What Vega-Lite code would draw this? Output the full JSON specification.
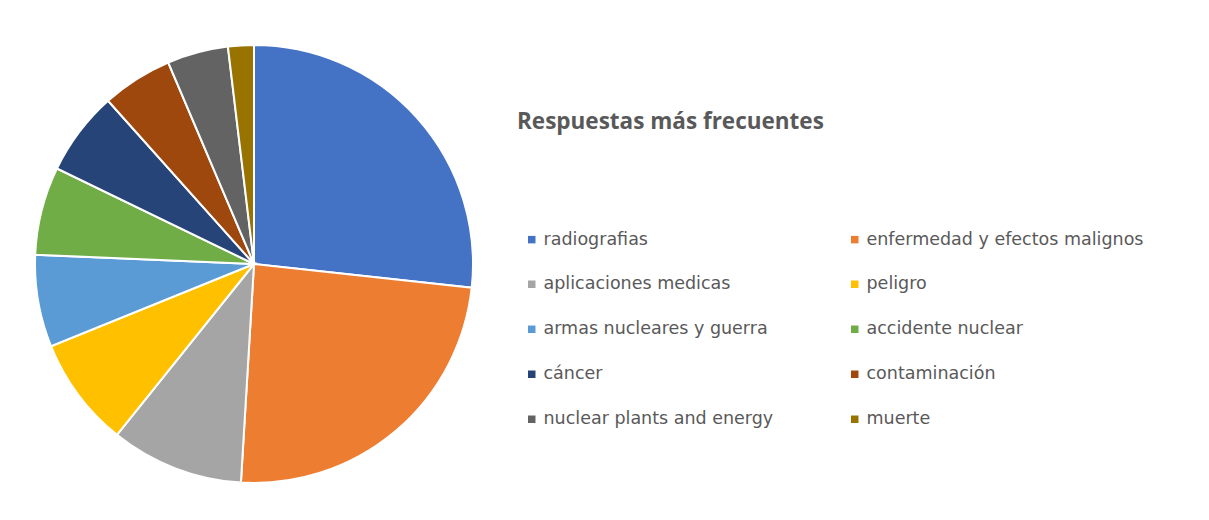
{
  "$schema": "https://vega.github.io/schema/vega-lite/v6.json",
  "width": 438,
  "height": 438,
  "padding": {"left": 31, "top": 41, "right": 0, "bottom": 0},
  "background": "white",
  "data": {
    "values": [
      {"respuesta": "radiografias", "porcentaje": 26.7, "orden": 1},
      {"respuesta": "enfermedad y efectos malignos", "porcentaje": 24.2, "orden": 2},
      {"respuesta": "aplicaciones medicas", "porcentaje": 9.8, "orden": 3},
      {"respuesta": "peligro", "porcentaje": 8.1, "orden": 4},
      {"respuesta": "armas nucleares y guerra", "porcentaje": 6.8, "orden": 5},
      {"respuesta": "accidente nuclear", "porcentaje": 6.5, "orden": 6},
      {"respuesta": "cáncer", "porcentaje": 6.2, "orden": 7},
      {"respuesta": "contaminación", "porcentaje": 5.2, "orden": 8},
      {"respuesta": "nuclear plants and energy", "porcentaje": 4.5, "orden": 9},
      {"respuesta": "muerte", "porcentaje": 1.9, "orden": 10}
    ]
  },
  "mark": {"type": "arc", "stroke": "white", "strokeWidth": 2},
  "encoding": {
    "theta": {"field": "porcentaje", "type": "quantitative", "stack": true},
    "order": {"field": "orden", "type": "quantitative"},
    "color": {
      "field": "respuesta",
      "type": "nominal",
      "scale": {
        "domain": ["radiografias", "enfermedad y efectos malignos", "aplicaciones medicas", "peligro", "armas nucleares y guerra", "accidente nuclear", "cáncer", "contaminación", "nuclear plants and energy", "muerte"],
        "range": ["#4472C4", "#ED7D31", "#A5A5A5", "#FFC000", "#5B9BD5", "#70AD47", "#264478", "#9E480E", "#636363", "#997300"]
      },
      "legend": {
        "title": "Respuestas más frecuentes",
        "orient": "none",
        "legendX": 482,
        "legendY": 66,
        "direction": "horizontal",
        "columns": 2,
        "gridAlign": "all",
        "columnPadding": 19,
        "rowPadding": 26,
        "padding": 0,
        "titleFont": "Open Sans",
        "titleFontSize": 22.5,
        "titleFontWeight": "bold",
        "titleColor": "#595959",
        "titlePadding": 97,
        "titleLimit": 600,
        "labelFont": "DejaVu Sans",
        "labelFontSize": 17.5,
        "labelColor": "#595959",
        "labelLimit": 400,
        "labelOffset": 3,
        "symbolType": "square",
        "symbolSize": 56,
        "symbolStrokeWidth": 0,
        "symbolOffset": 6
      }
    }
  },
  "config": {"view": {"stroke": null}}
}
